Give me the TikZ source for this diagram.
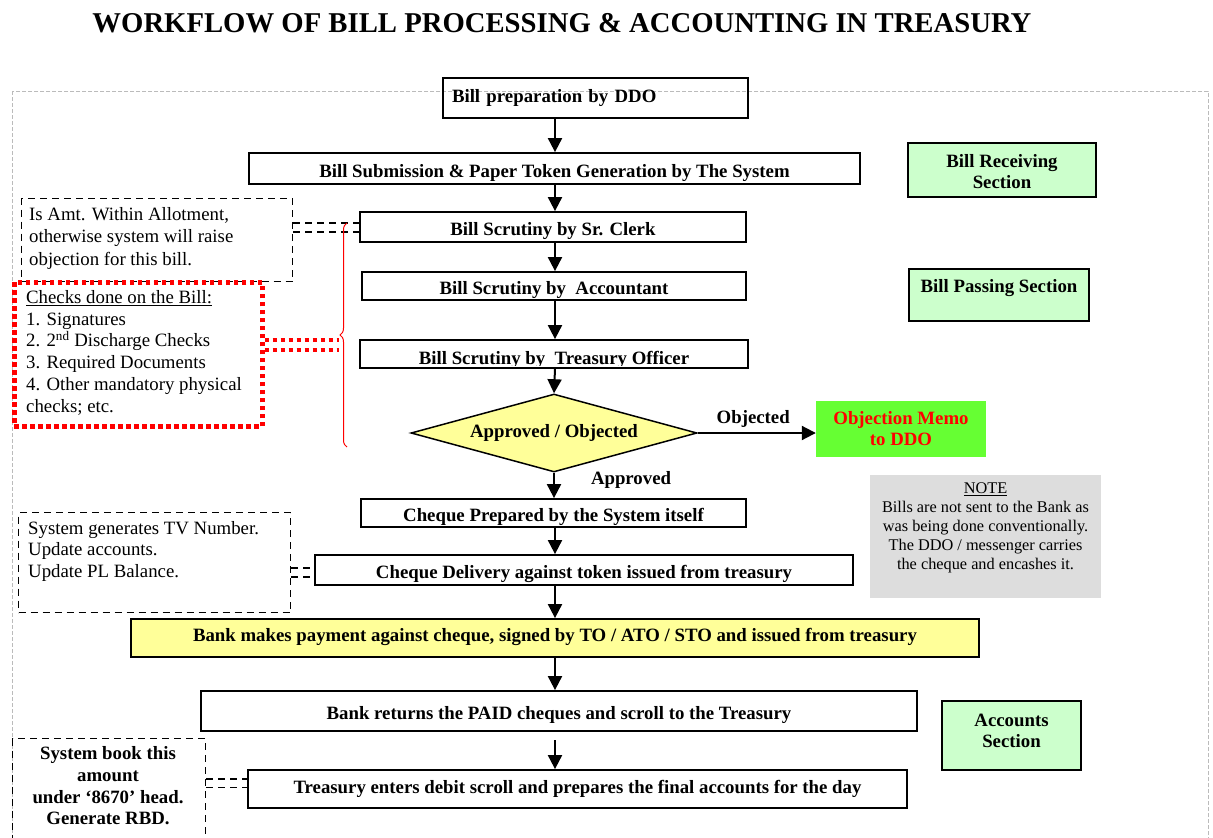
\documentclass[tikz,border=0pt]{standalone}
\usepackage{fontspec}
\setmainfont{Liberation Serif}
\usetikzlibrary{arrows.meta,shapes.geometric,decorations.pathreplacing}
\definecolor{secgreen}{HTML}{CCFFCC}
\definecolor{memogreen}{HTML}{66FF33}
\definecolor{lightyel}{HTML}{FFFF99}
\definecolor{notegray}{HTML}{DDDDDD}
\definecolor{framegray}{HTML}{BBBBBB}
\begin{document}
\begin{tikzpicture}[x=1pt,y=-1pt,
  every node/.style={font=\fontsize{18.8}{22}\selectfont, inner sep=0pt},
  mbox/.style={draw, line width=1.8pt, text height=18pt, text depth=0pt, font=\bfseries\fontsize{18.8}{22}\selectfont},
  arr/.style={line width=2pt, -{Triangle[width=14pt,length=14pt]}},
  dashbox/.style={draw, line width=1.3pt, dash pattern=on 7pt off 5pt},
  dashc/.style={line width=1.3pt, dash pattern=on 7pt off 5pt},
  reddot/.style={draw=red, line width=4.5pt, dash pattern=on 4.5pt off 3.5pt},
  reddotc/.style={red, line width=4.5pt, dash pattern=on 4.5pt off 3.5pt},
]
\clip (0,0) rectangle (1213,838);
\fill[white] (0,0) rectangle (1213,838);

% title
\node[font=\bfseries\fontsize{28.7}{32}\selectfont] (title) at (562,23) {WORKFLOW OF BILL PROCESSING \& ACCOUNTING IN TREASURY};

% outer frame
\draw[framegray, line width=0.9pt, dash pattern=on 4pt off 2pt] (12,91) rectangle (1208,870);

% axis
\coordinate (ax) at (555,0);

% main boxes
\node[draw, line width=1.8pt, font=\bfseries\fontsize{18.8}{22}\selectfont, text width=287pt, inner xsep=9pt, minimum height=40pt, align=left] (b1) at (595.5,98) {Bill preparation by DDO};
\node[mbox, minimum width=611pt, minimum height=31pt] (b2) at (554.5,168.5) {Bill Submission \& Paper Token Generation by The System};
\node[mbox, text height=16pt, minimum width=386pt, minimum height=30pt] (b3) at (553,227) {Bill Scrutiny by Sr. Clerk};
\node[mbox, text height=16pt, minimum width=384pt, minimum height=28pt] (b4) at (554,286) {Bill Scrutiny by\ \ Accountant};
\node[draw, line width=1.8pt, minimum width=388pt, minimum height=28pt] (b5) at (554,354) {};
\begin{scope}
\clip (361,341) rectangle (747,365);
\node[font=\bfseries\fontsize{18.8}{22}\selectfont, anchor=base] (b5t) at (554,364) {Bill Scrutiny by\ \ Treasury Officer};
\end{scope}
\node[diamond, draw, line width=1.5pt, fill=lightyel, aspect=3.67, minimum width=286pt, minimum height=78pt, font=\bfseries\fontsize{18.8}{22}\selectfont] (d) at (554,433) {Approved / Objected};
\node[fill=memogreen, minimum width=170pt, minimum height=56pt, align=center, text=red, font=\bfseries\fontsize{18.8}{21}\selectfont] (memo) at (901,429) {Objection Memo\\to DDO};
\node[mbox, text height=16pt, minimum width=385pt, minimum height=28pt] (b6) at (553.5,513) {Cheque Prepared by the System itself};
\node[mbox, text height=16pt, minimum width=538pt, minimum height=30pt] (b7) at (584,570) {Cheque Delivery against token issued from treasury};
\node[mbox, fill=lightyel, text height=10pt, text depth=3pt, minimum width=848pt, minimum height=38pt] (b8) at (555,638) {Bank makes payment against cheque, signed by TO / ATO / STO and issued from treasury};
\node[mbox, text height=16pt, minimum width=716pt, minimum height=40pt] (b9) at (559,711) {Bank returns the PAID cheques and scroll to the Treasury};
\node[mbox, text height=11pt, text depth=2pt, minimum width=659pt, minimum height=38pt] (b10) at (577.5,789) {Treasury enters debit scroll and prepares the final accounts for the day};

% section boxes
\node[draw, line width=1.8pt, fill=secgreen, minimum width=188pt, minimum height=54pt] (sr) at (1002,170) {};
\node[align=center, font=\bfseries\fontsize{18.8}{21}\selectfont] (srt) at (1002,172) {Bill Receiving\\Section};
\node[draw, line width=1.8pt, fill=secgreen, minimum width=180pt, minimum height=52pt] (sp) at (999,295) {};
\node[font=\bfseries\fontsize{18.8}{21}\selectfont] (spt) at (999,288) {Bill Passing Section};
\node[draw, line width=1.8pt, fill=secgreen, minimum width=139pt, minimum height=69pt] (sa) at (1011.5,735.5) {};
\node[align=center, font=\bfseries\fontsize{18.8}{21}\selectfont] (sat) at (1011.5,731) {Accounts\\Section};

% note box
\node[fill=notegray, minimum width=231pt, minimum height=123pt] (note) at (985.5,536.5) {};
\node[anchor=north, align=center, font=\fontsize{16.3}{19}\selectfont] (notet) at (985.5,483) {\underline{NOTE}\\Bills are not sent to the Bank as\\was being done conventionally.\\The DDO / messenger carries\\the cheque and encashes it.};

% left notes
\node[dashbox, anchor=north west, minimum width=271pt, minimum height=83pt] (n1) at (21,198) {};
\node[anchor=north west, align=left, font=\fontsize{18.8}{22.5}\selectfont] (n1t) at (29,207) {Is Amt. Within Allotment,\\otherwise system will raise\\objection for this bill.};

\node[reddot, anchor=north west, minimum width=248pt, minimum height=144pt] (chk) at (12,280) {};
\node[anchor=north west, align=left, font=\fontsize{18.8}{21.8}\selectfont] (chkt) at (26,290) {\underline{Checks done on the Bill:}\\1. Signatures\\2. 2\textsuperscript{nd} Discharge Checks\\3. Required Documents\\4. Other mandatory physical\\checks; etc.};

\node[dashbox, anchor=north west, minimum width=272pt, minimum height=100pt] (n2) at (18,512) {};
\node[anchor=north west, align=left, font=\fontsize{18.8}{21.5}\selectfont] (n2t) at (28,521) {System generates TV Number.\\Update accounts.\\Update PL Balance.};

\node[dashbox, anchor=north west, minimum width=193pt, minimum height=130pt] (n3) at (12,738) {};
\node[align=center, font=\bfseries\fontsize{18.8}{21.7}\selectfont] (n3t) at (108,786) {System book this\\amount\\under `8670' head.\\Generate RBD.};

% main arrows
\draw[arr] (b1.south -| ax) -- (b2.north -| ax);
\draw[arr] (b2.south -| ax) -- (b3.north -| ax);
\draw[arr] (b3.south -| ax) -- (b4.north -| ax);
\draw[arr] (b4.south -| ax) -- (b5.north -| ax);
\draw[arr] (b5.south -| ax) -- (d.north);
\draw[arr] (d.east) -- node[pos=0.47, above=5pt, font=\bfseries\fontsize{18.8}{22}\selectfont] (lobj) {Objected} (memo.west |- d.east);
\draw[arr] (d.south) -- node[pos=0.3, anchor=west, xshift=36pt, font=\bfseries\fontsize{18.8}{22}\selectfont] (lapp) {Approved} (b6.north -| d.south);
\draw[arr] (b6.south -| ax) -- (b7.north -| ax);
\draw[arr] (b7.south -| ax) -- (b8.north -| ax);
\draw[arr] (b8.south -| ax) -- (b9.north -| ax);
\coordinate (a9) at (555,740);
\draw[arr] (a9) -- (b10.north -| ax);

% dashed connectors
\draw[dashc] (n1.east |- 0,223) -- (b3.west |- 0,223);
\draw[dashc] (n1.east |- 0,232) -- (b3.west |- 0,232);
\draw[dashc] (n2.east |- 0,568) -- (b7.west |- 0,568);
\draw[dashc] (n2.east |- 0,577) -- (b7.west |- 0,577);
\draw[dashc] (n3.east |- 0,779) -- (b10.west |- 0,779);
\draw[dashc] (n3.east |- 0,787.5) -- (b10.west |- 0,787.5);

% brace and red connectors
\coordinate (brb) at (347,447);
\coordinate (brt) at (347,223);
\draw[red, line width=1pt, decorate, decoration={brace, amplitude=7pt}] (brb) -- (brt);
\coordinate (bt1) at (339,340);
\coordinate (bt2) at (339,350);
\draw[reddotc] (chk.east |- bt1) -- (bt1);
\draw[reddotc] (chk.east |- bt2) -- (bt2);
\end{tikzpicture}
\end{document}
